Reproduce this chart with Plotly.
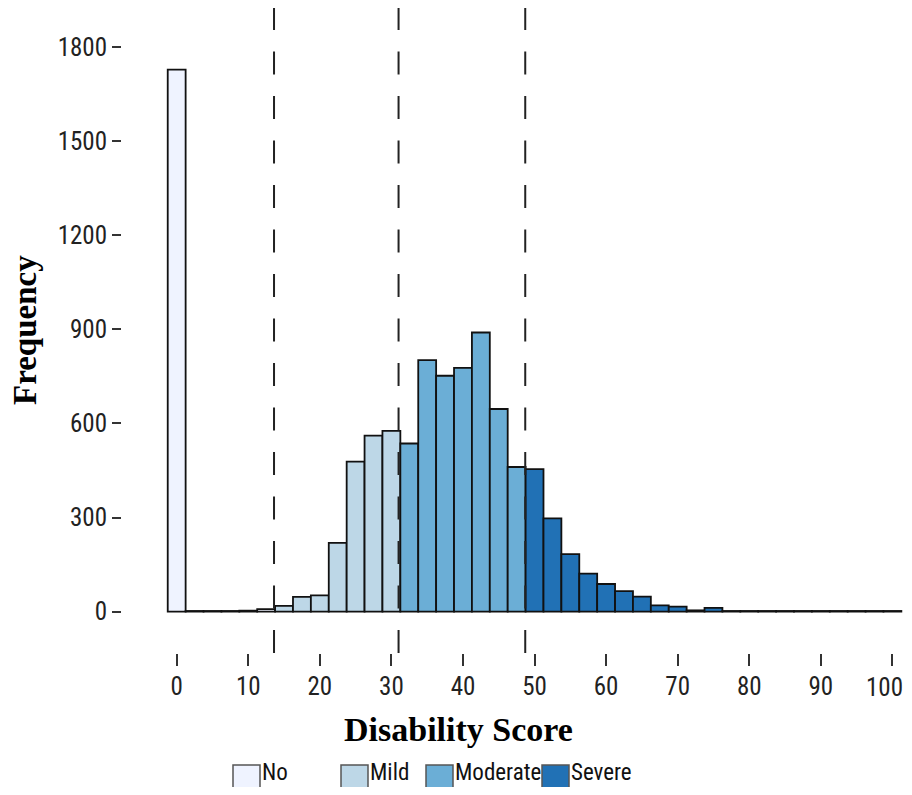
import plotly.graph_objects as go

# ---- data (bin width 2.5, bins centred on the x values) ----
no_x = [0, 2.5, 5, 7.5, 10, 12.5]
no_y = [1728, 2, 2, 2, 3, 8]
mild_x = [15, 17.5, 20, 22.5, 25, 27.5, 30]
mild_y = [18, 47, 52, 219, 478, 561, 576]
moderate_x = [32.5, 35, 37.5, 40, 42.5, 45, 47.5]
moderate_y = [536, 802, 752, 777, 890, 646, 461]
severe_x = [50, 52.5, 55, 57.5, 60, 62.5, 65, 67.5, 70, 72.5, 75,
            77.5, 80, 82.5, 85, 87.5, 90, 92.5, 95, 97.5, 100]
severe_y = [454, 297, 183, 121, 88, 65, 48, 20, 16, 4, 12,
            2, 2, 2, 2, 2, 2, 2, 2, 2, 2]
cutoffs = [13.6, 31.0, 48.7]
categories = ["No", "Mild", "Moderate", "Severe"]
colors = ["#EFF3FF", "#BDD7E7", "#6BAED6", "#2171B5"]
x_ticks = [0, 10, 20, 30, 40, 50, 60, 70, 80, 90, 100]
x_ticktext = ["0", "10", "20", "30", "40", "50", "60", "70", "80", "90", "100"]
y_ticks = [0, 300, 600, 900, 1200, 1500, 1800]

# page body adds an 8px margin; keep the figure inside the window
OFF = 8
W, H = 912 - OFF, 795 - 2 * OFF
ML, MR, MT, MB = 122 - OFF, W - (903 - OFF), 0, H - (653 - OFF)
PW, PH = W - ML - MR, H - MT - MB

def px_x(p):
    return (p - OFF - ML) / PW

def px_y(p):
    return (H - MB - (p - OFF)) / PH

TICKFONT = "Liberation Sans Narrow, Arial Narrow, Roboto Condensed, sans-serif"
TITLEFONT = "Liberation Serif, Times New Roman, serif"

fig = go.Figure()
for name, xs, ys, col in zip(categories,
                             [no_x, mild_x, moderate_x, severe_x],
                             [no_y, mild_y, moderate_y, severe_y],
                             colors):
    fig.add_trace(go.Bar(x=xs, y=ys, width=2.5, name=name,
                         marker=dict(color=col, line=dict(color="#111111", width=1.8)),
                         showlegend=False))

for c in cutoffs:
    fig.add_shape(type="line", xref="x", yref="paper", x0=c, x1=c, y0=0, y1=1,
                  line=dict(color="#222222", width=2, dash="23px,21.5px"))

# manual legend
leg_boxes = [233, 341, 426, 542]
for name, col, bx in zip(categories, colors, leg_boxes):
    fig.add_shape(type="rect", xref="paper", yref="paper",
                  x0=px_x(bx), x1=px_x(bx + 27), y0=px_y(788), y1=px_y(765),
                  fillcolor=col, line=dict(color="#555555", width=1.5))
    fig.add_annotation(xref="paper", yref="paper", x=px_x(bx + 28), y=px_y(772),
                       xanchor="left", yanchor="middle", showarrow=False, text=name,
                       borderpad=0,
                       font=dict(family=TICKFONT, size=23, color="#111111"))

# last x tick label kept inside the visible window
shown_text = x_ticktext[:-1] + [""]
fig.add_annotation(xref="paper", yref="paper", x=px_x(904), y=px_y(687),
                   xanchor="right", yanchor="middle", showarrow=False,
                   text=x_ticktext[-1], borderpad=0,
                   font=dict(family=TICKFONT, size=25, color="#222222"))

fig.add_annotation(xref="paper", yref="paper", x=px_x(458), y=px_y(730),
                   xanchor="center", yanchor="middle", showarrow=False,
                   text="<b>Disability Score</b>",
                   font=dict(family=TITLEFONT, size=34, color="#000000"))
fig.add_annotation(xref="paper", yref="paper", x=px_x(25), y=px_y(330),
                   xanchor="center", yanchor="middle", showarrow=False, textangle=-90,
                   text="<b>Frequency</b>",
                   font=dict(family=TITLEFONT, size=33, color="#000000"))

fig.update_layout(
    width=W, height=H,
    margin=dict(l=ML, r=MR, t=MT, b=MB, pad=0, autoexpand=False),
    paper_bgcolor="white", plot_bgcolor="white",
    barmode="overlay",
    xaxis=dict(range=[-7.64, 101.48], tickvals=x_ticks, ticktext=shown_text,
               ticks="outside", ticklen=12,
               tickwidth=2, tickcolor="#333333", showgrid=False, zeroline=False,
               showline=False, ticklabelstandoff=-1, automargin=False,
               ticklabeloverflow="allow",
               tickfont=dict(family=TICKFONT, size=25, color="#222222")),
    yaxis=dict(range=[-132, (611.7 - OFF) * 3.188], tickvals=y_ticks, ticks="outside",
               ticklen=9, tickwidth=2, tickcolor="#333333", showgrid=False,
               zeroline=False, showline=False, ticklabelstandoff=0, automargin=False,
               tickfont=dict(family=TICKFONT, size=25, color="#222222")),
)

fig.write_html("out.html")
